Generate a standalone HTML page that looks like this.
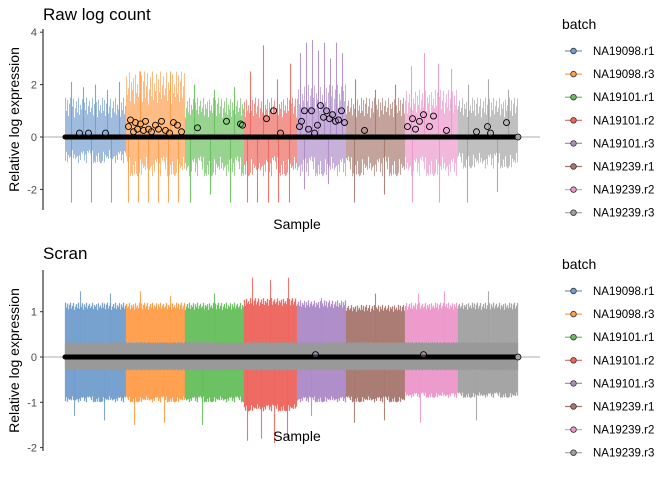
<!DOCTYPE html>
<html><head><meta charset="utf-8"><style>
html,body{margin:0;padding:0;background:#fff;}
svg{display:block;font-family:"Liberation Sans",Arial,sans-serif;}
</style></head><body>
<svg id="chart" width="672" height="480" viewBox="0 0 672 480" xmlns="http://www.w3.org/2000/svg">
<g id="top"></g>
<g id="bot"></g>
<g id="legends"></g>
</svg>
<script>
const batches = ["NA19098.r1","NA19098.r3","NA19101.r1","NA19101.r2","NA19101.r3","NA19239.r1","NA19239.r2","NA19239.r3"];
const batchSizes = [61,59,59,53,49,59,53,60];
const colors = ["#729ECE","#FF9E4A","#67BF5C","#ED665D","#AD8BC9","#A8786E","#ED97CA","#A2A2A2"];
const jitterPattern = [1,0.55,0.92,0.38,0.8,1,0.46,0.7,0.97,0.33,0.64,0.88,0.5,1,0.42,0.76,0.6,0.95,0.36,0.84,0.58,1,0.44,0.72,0.9,0.52,0.66,0.98,0.4,0.78,0.62,0.86,0.34,0.94,0.56,0.74,0.48];
// Raw log count
const rawUpper = [1.5,2.5,1.5,1.5,2.0,1.5,1.8,1.5];
const rawLower = [-1.0,-1.5,-1.5,-1.5,-1.5,-1.5,-1.5,-1.2];
const rawSpikesTop = [[2.1,1.9,2.0,1.8,2.1],[2.5,2.5],[2.0,1.8,1.9],[2.5,3.5,2.2,2.8],[3.2,3.6,3.7,3.3,3.6,3.0,3.6,3.2],[2.2,1.8,2.0],[2.7,3.2,2.8,2.6],[2.0,2.2,1.8]];
const rawSpikesBot = [[-2.5,-2.5,-2.5],[-2.5,-2.5,-2.5,-2.5,-2.5,-2.5],[-2.5,-2.2,-2.5],[-2.5,-2.5,-2.5,-2.5,-2.5],[-2.0,-1.8],[-2.5,-2.2],[-2.5,-2.5],[-2.5,-2.1]];
const rawOutlierIdx = [14,23,40,63,65,68,70,72,75,78,80,83,86,90,93,96,100,104,108,112,116,132,161,175,177,201,208,215,234,236,239,243,246,249,252,255,258,261,264,267,270,273,276,279,299,342,347,350,354,358,364,368,381,411,422,425,441];
const rawOutlierVal = [0.15,0.15,0.15,0.4,0.65,0.2,0.55,0.3,0.5,0.25,0.6,0.3,0.2,0.45,0.3,0.6,0.25,0.15,0.55,0.45,0.2,0.35,0.6,0.5,0.45,0.7,1.0,0.15,0.4,0.6,1.0,0.3,1.0,0.15,0.45,1.2,0.75,1.0,0.7,0.85,0.6,0.65,1.0,0.55,0.25,0.4,0.7,0.3,0.6,0.85,0.4,0.8,0.25,0.2,0.4,0.15,0.55];
const rawTicks = [4,2,0,-2];
// Scran
const scrUpper = [1.2,1.2,1.2,1.3,1.25,1.15,1.2,1.2];
const scrLower = [-1.0,-1.0,-1.0,-1.2,-1.0,-1.0,-0.9,-0.9];
const scrSpikesTop = [[1.45,1.4],[1.45,1.35],[1.4],[1.75,1.7,1.75],[1.3],[1.4],[1.4,1.45],[1.45]];
const scrSpikesBot = [[-1.3,-1.4],[-1.5,-1.45],[-1.5],[-1.85,-1.8,-1.9,-1.8],[-1.3],[-1.45,-1.4],[-1.45],[-1.4]];
const scrOutlierIdx = [250,358];
const scrOutlierVal = [0.05,0.05];
const scrTicks = [1,0,-1,-2];

const NS="http://www.w3.org/2000/svg";
function mk(tag,attrs,parent){const e=document.createElementNS(NS,tag);for(const k in attrs)e.setAttribute(k,attrs[k]);parent.appendChild(e);return e;}
const N = batchSizes.reduce((a,b)=>a+b,0);
const X0=65, X1=518;
function xS(i){return X0+(i+0.5)*(X1-X0)/N;}
const JL=jitterPattern.length;

function panel(g,o){
  const yS=v=>o.zeroY-v*o.ppu;
  const jf=j=>1-o.amp*(1-j);
  const t=mk('text',{x:43,y:o.titleY,'font-size':17,fill:'#000'},g);t.textContent=o.title;
  
  
  const rl=mk('line',{x1:43,x2:540,y1:yS(0),y2:yS(0),stroke:'#bdbdbd','stroke-width':1.2},g);
  
  
  let start=0;
  batches.forEach((b,bi)=>{
    const bg=mk('g',{},g);
    
    
    const n=batchSizes[bi];
    for(let k=0;k<n;k++){
      const i=start+k;
      const u=o.upper[bi]*jf(jitterPattern[i%JL]);
      const l=o.lower[bi]*jf(jitterPattern[(i*3+11)%JL]);
      mk('line',{x1:xS(i),x2:xS(i),y1:yS(u),y2:yS(l),stroke:colors[bi],'stroke-width':o.sw,opacity:o.op},bg);
    }
    o.spT[bi].forEach((v,k)=>{const i=start+Math.floor((k+0.5)*n/o.spT[bi].length);
      const s=mk('line',{x1:xS(i),x2:xS(i),y1:yS(v),y2:yS(0),stroke:colors[bi],'stroke-width':1.1,opacity:0.9},bg);
      
      });
    o.spB[bi].forEach((v,k)=>{const i=start+Math.floor((k+0.3)*n/o.spB[bi].length);
      const s=mk('line',{x1:xS(i),x2:xS(i),y1:yS(0),y2:yS(v),stroke:colors[bi],'stroke-width':1.1,opacity:0.9},bg);
      
      });
    start+=n;
  });
  for(let i=0;i<N;i++){
    const h=o.band*(0.85+0.15*jitterPattern[(i+3)%JL]);
    mk('line',{x1:xS(i),x2:xS(i),y1:yS(h),y2:yS(-h*0.9),stroke:'#999','stroke-width':1.2},g);
  }
  const ml=mk('line',{x1:X0,x2:X1,y1:yS(0),y2:yS(0),stroke:'#000','stroke-width':5,'stroke-linecap':'round'},g);
  
  
  const ec=mk('circle',{cx:X1,cy:yS(0),r:3,fill:'#A2A2A2',stroke:'#000','stroke-width':0.8},g);
  
  
  o.oIdx.forEach((idx,k)=>{
    let bi=0,acc=0;while(idx>=acc+batchSizes[bi]){acc+=batchSizes[bi];bi++;}
    const c=mk('circle',{cx:xS(idx),cy:yS(o.oVal[k]),r:3,fill:colors[bi],'fill-opacity':0.35,stroke:'#000','stroke-width':0.9},g);
    
    
  });
  const ax=mk('line',{x1:43,x2:43,y1:o.axTop,y2:o.axBot,stroke:'#333','stroke-width':1.2},g);
  
  
  o.ticks.forEach(v=>{
    mk('line',{x1:40,x2:43,y1:yS(v),y2:yS(v),stroke:'#333','stroke-width':1},g);
    const tl=mk('text',{x:37,y:yS(v)+4,'font-size':11,fill:'#4d4d4d','text-anchor':'end'},g);
    tl.textContent=v;
    
    
  });
  const yt=mk('text',{x:0,y:0,'font-size':14,fill:'#000','text-anchor':'middle',transform:`translate(19,${(o.axTop+o.axBot)/2}) rotate(-90)`},g);
  yt.textContent='Relative log expression';
  
  
  const xt=mk('text',{x:297,y:o.xTitleY,'font-size':14,fill:'#000','text-anchor':'middle'},g);
  xt.textContent='Sample';
  
  
}
panel(document.getElementById('top'),{title:'Raw log count',titleY:20,zeroY:137,ppu:26.2,sw:0.85,op:0.8,amp:0.75,upper:rawUpper,lower:rawLower,spT:rawSpikesTop,spB:rawSpikesBot,band:0.1,oIdx:rawOutlierIdx,oVal:rawOutlierVal,ticks:rawTicks,axTop:29,axBot:210,xTitleY:229});
panel(document.getElementById('bot'),{title:'Scran',titleY:259,zeroY:357,ppu:45.3,sw:1.25,op:0.95,amp:0.2,upper:scrUpper,lower:scrLower,spT:scrSpikesTop,spB:scrSpikesBot,band:0.33,oIdx:scrOutlierIdx,oVal:scrOutlierVal,ticks:scrTicks,axTop:270,axBot:451,xTitleY:441});

const lg=document.getElementById('legends');
[[24,51],[264,291]].forEach(([ty,y0])=>{
  const g=mk('g',{},lg);
  
  
  const t=mk('text',{x:562,y:ty+5,'font-size':14,fill:'#000'},g);t.textContent='batch';
  
  
  batches.forEach((b,i)=>{
    const y=y0+i*23.1;
    const e=mk('g',{},g);
    
    
    mk('line',{x1:565,x2:582,y1:y,y2:y,stroke:colors[i],'stroke-width':1.2},e);
    mk('circle',{cx:573.5,cy:y,r:2.8,fill:colors[i],stroke:'#333','stroke-width':0.8},e);
    const tx=mk('text',{x:593,y:y+4,'font-size':11.5,fill:'#000'},e);tx.textContent=b;
  });
});
</script>
</body></html>
